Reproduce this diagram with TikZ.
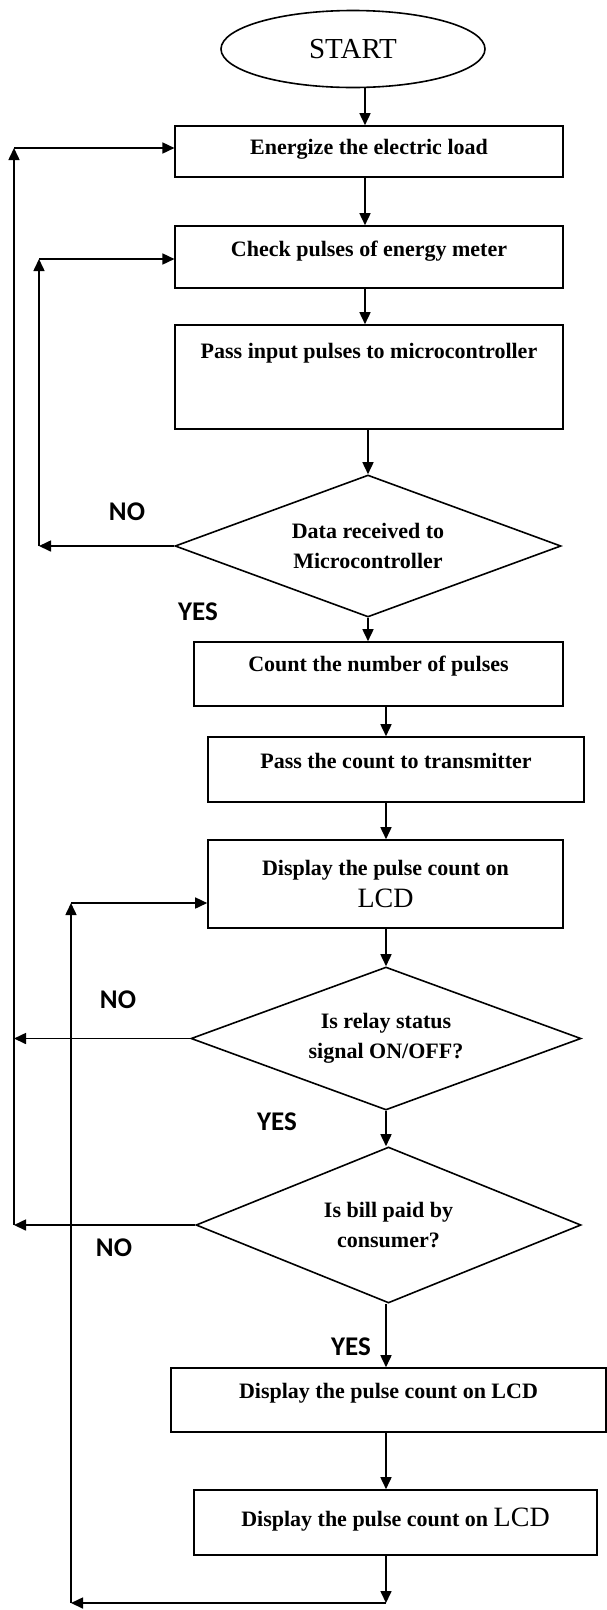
\documentclass[tikz,border=0pt]{standalone}
\usepackage{fontspec}
\setmainfont{Liberation Serif}
\newfontfamily\labelfont{Carlito}
\usetikzlibrary{shapes.geometric,arrows.meta}

\tikzset{
  boxbase/.style={draw, rectangle, line width=1.6pt, inner sep=0pt, align=center,
    font=\fontsize{22}{30}\selectfont\bfseries},
  procbox/.style={boxbase, text height=14.6pt, text depth=#1},
  procbox/.default=0pt,
  decbox/.style={draw, diamond, aspect=2.7, line width=1.6pt, inner sep=0pt, align=center,
    font=\fontsize{22}{30}\selectfont\bfseries},
  flowarr/.style={-{Triangle[length=12pt,width=11pt]}, line width=1.6pt},
  yesno/.style={font=\labelfont\fontsize{27}{30}\selectfont\bfseries}
}
\newcommand{\bigLCD}{{\fontsize{28}{34}\selectfont\mdseries LCD}}

\begin{document}
\begin{tikzpicture}[x=1pt, y=-1pt]
      \path[use as bounding box, fill=white](0, 0) rectangle (607, 1610);
      % main column
      \node[ellipse, draw, line width=1.6pt, minimum width=264pt, minimum height=77pt,
        font=\fontsize{29}{30}\selectfont] (start) at (353, 49) {START};
      \node[procbox=9.6pt, minimum width=387.5pt, minimum height=51pt] (energize) at (369, 151.5) {Energize the electric load};
      \node[procbox=16.6pt, minimum width=387.5pt, minimum height=62pt] (check) at (369, 257) {Check pulses of energy meter};
      \node[procbox=52.6pt, minimum width=387.5pt, minimum height=104pt] (passin) at (369, 377) {Pass input pulses to microcontroller};
      \node[decbox, minimum width=386pt, minimum height=142pt] (data) at (368, 546) {Data received to\\Microcontroller};
      \node[procbox=20.6pt, minimum width=369pt, minimum height=64pt] (count) at (378.5, 674) {Count the number of pulses};
      \node[procbox=17.6pt, minimum width=376pt, minimum height=65pt] (passcnt) at (396, 769.5) {Pass the count to transmitter};
      \node[boxbase, minimum width=355pt, minimum height=88pt] (lcdA) at (385.5, 884) {Display the pulse count on\\[2pt]\bigLCD};
      \node[decbox, minimum width=390pt, minimum height=143pt] (relay) at (386, 1038.5) {Is relay status\\signal ON/OFF?};
      \node[decbox, minimum width=385pt, minimum height=156pt] (bill) at (388.5, 1225) {Is bill paid by\\consumer?};
      \node[procbox=18.6pt, minimum width=435pt, minimum height=64pt] (lcdB) at (388.5, 1400) {Display the pulse count on LCD};
      \node[procbox=7.6pt, minimum width=403pt, minimum height=65pt] (lcdC) at (395.5, 1522.5) {Display the pulse count on \bigLCD};
      % YES / NO
      \node[yesno] (noA) at (127, 512) {NO};
      \node[yesno] (yesA) at (198, 612) {YES};
      \node[yesno] (noB) at (118, 1000) {NO};
      \node[yesno] (yesB) at (277, 1122) {YES};
      \node[yesno] (noC) at (114, 1248) {NO};
      \node[yesno] (yesC) at (351, 1347) {YES};
      % corners of the loops
      \coordinate (colA) at (365, 0);
      \coordinate (colB) at (386, 0);
      \coordinate (outerTop) at (14, 148);
      \coordinate (outerBot) at (14, 1225);
      \coordinate (innerTop) at (39, 259);
      \coordinate (innerBot) at (39, 546);
      \coordinate (loopTop) at (71, 903);
      \coordinate (loopBot) at (71, 1603);
      \coordinate (loopEnd) at (386, 1603);
      % flow
      \draw[flowarr](start.south -| colA)--(energize.north -| colA);
      \draw[flowarr](energize.south -| colA)--(check.north -| colA);
      \draw[flowarr](check.south -| colA)--(passin.north -| colA);
      \draw[flowarr](passin.south -| data.north)--(data.north);
      \draw[flowarr](data.south)--(data.south |- count.north);
      \draw[flowarr](count.south -| colB)--(passcnt.north -| colB);
      \draw[flowarr](passcnt.south -| colB)--(lcdA.north -| colB);
      \draw[flowarr](lcdA.south -| colB)--(relay.north);
      \draw[flowarr](relay.south)--(relay.south |- bill.north);
      \draw[flowarr](bill.south -| colB)--(lcdB.north -| colB);
      \draw[flowarr](lcdB.south -| colB)--(lcdC.north -| colB);
      \draw[flowarr](lcdC.south -| colB)--(loopEnd);
      \draw[flowarr](loopEnd)--(loopBot);
      \draw[flowarr](loopBot)--(loopTop);
      \draw[flowarr](loopTop)--(loopTop -| lcdA.west);
      % NO branches
      \draw[flowarr](data.west)--(innerBot);
      \draw[flowarr](innerBot)--(innerTop);
      \draw[flowarr](innerTop)--(innerTop -| check.west);
      \draw[flowarr](relay.west)--(relay.west -| outerBot);
      \draw[flowarr](bill.west)--(outerBot);
      \draw[flowarr](outerBot)--(outerTop);
      \draw[flowarr](outerTop)--(outerTop -| energize.west);
    \end{tikzpicture}
\end{document}
